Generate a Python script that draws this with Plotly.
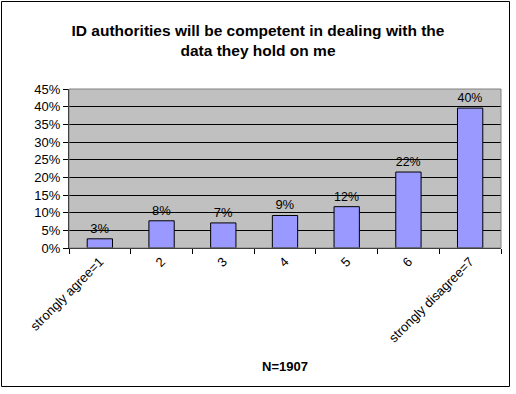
import plotly.graph_objects as go

categories = ["strongly agree=1", "2", "3", "4", "5", "6", "strongly disagree=7"]
values = [2.6, 7.7, 7.1, 9.2, 11.7, 21.5, 39.6]
labels = ["3%", "8%", "7%", "9%", "12%", "22%", "40%"]
y_ticks = [0, 5, 10, 15, 20, 25, 30, 35, 40, 45]
y_tick_text = [f"{v}%" for v in y_ticks]

W, H = 516, 394
L, R, T, B = 69, 15, 89, 146
pw, ph = W - L - R, H - T - B

def px(x):
    return (x - L) / pw

def py(y):
    return (H - B - y) / ph

font = "Liberation Sans, Arial, sans-serif"

fig = go.Figure(go.Bar(
    x=categories, y=values, text=labels, textposition="outside",
    textfont=dict(size=13, color="black", family=font),
    marker=dict(color="#9999FF", line=dict(color="black", width=1)),
    cliponaxis=False, hoverinfo="skip",
))

fig.update_layout(
    width=W, height=H, margin=dict(l=L, r=R, t=T, b=B),
    paper_bgcolor="white", plot_bgcolor="#C0C0C0",
    font=dict(family=font, size=13, color="black"),
    showlegend=False, bargap=0.59,
    title=dict(text="<b>ID authorities will be competent in dealing with the<br>data they hold on me</b>",
               x=0.5, xanchor="center", y=1 - 36 / H, yanchor="middle",
               font=dict(size=15.5, family=font, color="black")),
    xaxis=dict(tickangle=-45, ticks="outside", tickson="boundaries", ticklen=5,
               tickcolor="black", showline=True, linecolor="black", linewidth=1,
               showgrid=False, tickfont=dict(size=13, family=font), mirror=False),
    yaxis=dict(range=[0, 45], tickvals=y_ticks, ticktext=y_tick_text,
               ticks="outside", ticklen=5, tickcolor="black",
               showline=True, linecolor="black", linewidth=1,
               showgrid=True, gridcolor="black", gridwidth=1,
               tickfont=dict(size=13, family=font), zeroline=False),
    shapes=[
        dict(type="rect", xref="paper", yref="paper", x0=0, x1=1, y0=0, y1=1,
             line=dict(color="#808080", width=1), fillcolor="rgba(0,0,0,0)", layer="above"),
        dict(type="rect", xref="paper", yref="paper", x0=px(1.5), x1=px(509.5),
             y0=py(386.5), y1=py(1.5), line=dict(color="black", width=1),
             fillcolor="rgba(0,0,0,0)"),
    ],
    annotations=[dict(text="<b>N=1907</b>", xref="paper", yref="paper", x=0.5, y=py(366),
                      showarrow=False, xanchor="center", yanchor="middle",
                      font=dict(size=13, family=font, color="black"))],
)

fig.write_html("out.html", config={"displayModeBar": False},
               post_script="document.body.style.margin='0';document.body.style.overflow='hidden';")
